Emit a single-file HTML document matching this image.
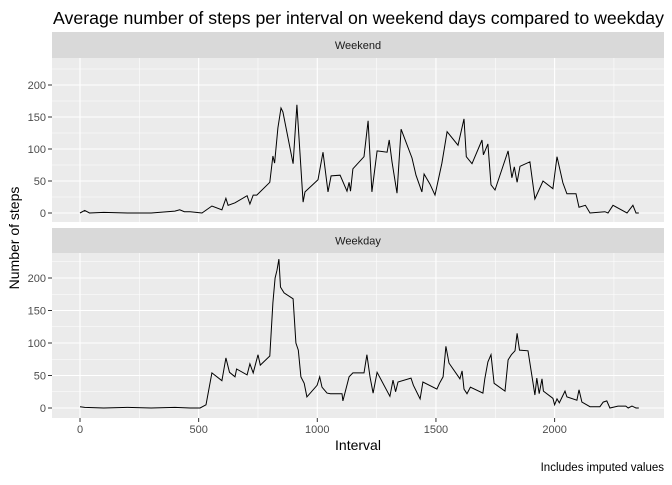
<!DOCTYPE html>
<html><head><meta charset="utf-8"><style>
body{margin:0;background:#fff;font-family:"Liberation Sans",sans-serif}
</style></head><body>
<svg id="c" width="672" height="480" xmlns="http://www.w3.org/2000/svg" font-family="Liberation Sans, sans-serif"></svg>
<script>
const weekendIntervals=[0,20,40,100,200,300,400,420,440,464,514,556,598,615,624,653,704,716,730,745,800,813,820,834,847,855,898,914,940,948,1003,1024,1045,1058,1096,1125,1134,1140,1150,1197,1214,1230,1252,1294,1303,1315,1336,1353,1399,1416,1441,1450,1475,1496,1525,1547,1593,1618,1628,1652,1694,1700,1719,1732,1749,1804,1820,1830,1842,1854,1896,1917,1951,1993,2010,2035,2052,2090,2103,2130,2149,2212,2225,2246,2305,2330,2343,2355];
const weekendSteps=[0,4,0,1,0,0,3,5,2,2,0,11,5,23,12,16,27,14,28,28,48,89,78,133,164,158,77,169,17,33,52,95,33,58,59,34,48,34,69,88,144,33,97,95,114,80,31,131,86,59,33,61,45,28,78,127,106,147,88,77,114,91,108,44,36,97,55,72,48,73,80,22,50,38,88,47,30,30,9,12,0,2,0,12,0,12,0,0];
const weekdayIntervals=[0,20,100,200,300,400,464,506,531,556,598,615,630,653,660,704,716,730,750,760,800,813,822,830,838,845,860,898,910,920,931,945,956,999,1010,1020,1041,1055,1104,1108,1134,1150,1197,1209,1222,1235,1252,1306,1319,1330,1340,1395,1405,1433,1445,1504,1515,1530,1542,1555,1601,1610,1618,1631,1645,1698,1706,1719,1732,1745,1791,1804,1818,1833,1842,1852,1888,1917,1925,1935,1947,1953,1993,2000,2010,2020,2044,2052,2094,2103,2115,2149,2191,2205,2220,2233,2267,2300,2310,2326,2343,2355];
const weekdayValues=[2,1,0,1,0,1,0,0,5,54,42,77,55,48,60,51,68,54,82,66,80,162,200,212,229,186,177,168,100,89,48,38,17,35,48,32,23,22,22,11,48,54,54,82,48,23,55,18,43,25,40,46,35,14,40,29,38,48,95,69,45,57,29,22,32,23,45,71,82,38,26,74,82,88,115,89,88,20,46,22,45,26,15,5,14,8,26,17,12,28,9,2,2,9,11,0,3,3,0,3,0,0];
const xTicks=[0,500,1000,1500,2000];
const yTicks=[0,50,100,150,200];
const NS="http://www.w3.org/2000/svg";
const svg=document.getElementById('c');
function mk(t,a,p){const e=document.createElementNS(NS,t);for(const k in a)e.setAttribute(k,a[k]);(p||svg).appendChild(e);return e;}
const PX0=52,PX1=664;
const xs=v=>80+v*0.2373;
const panels=[
 {name:'Weekend',key:'weekend',sy0:32,top:58,bot:222,y0:213,k:0.64,xi:weekendIntervals,yv:weekendSteps},
 {name:'Weekday',key:'weekday',sy0:228,top:253,bot:418,y0:408,k:0.65,xi:weekdayIntervals,yv:weekdayValues}
];
panels.forEach((p,pi)=>{
 const ys=v=>p.y0-v*p.k;
 const g=mk('g',{});
 
 
 const st=mk('rect',{x:PX0,y:p.sy0,width:PX1-PX0,height:p.top-p.sy0,fill:'#D9D9D9'},g);
 
 
 const stt=mk('text',{x:(PX0+PX1)/2,y:(p.sy0+p.top)/2+4,'text-anchor':'middle','font-size':'11',fill:'#1A1A1A'},g);
 stt.textContent=p.name;
 
 
 mk('rect',{x:PX0,y:p.top,width:PX1-PX0,height:p.bot-p.top,fill:'#EBEBEB'},g);
 for(let v=-250;v<=2750;v+=250){const x=xs(v);if(x<PX0||x>PX1)continue;mk('line',{x1:x,x2:x,y1:p.top,y2:p.bot,stroke:'#fff','stroke-width':v%500===0?1.1:0.55},g);}
 for(let v=-25;v<=250;v+=25){const y=ys(v);if(y<p.top||y>p.bot)continue;mk('line',{x1:PX0,x2:PX1,y1:y,y2:y,stroke:'#fff','stroke-width':v%50===0?1.1:0.55},g);}
 yTicks.forEach(v=>{const y=ys(v);
  const t=mk('text',{x:46,y:y+4,'text-anchor':'end','font-size':'11',fill:'#4D4D4D'},g);t.textContent=v;
  
  
  mk('line',{x1:48,x2:PX0,y1:y,y2:y,stroke:'#333','stroke-width':1},g);});
 const d=p.xi.map((v,i)=>(i?'L':'M')+xs(v).toFixed(1)+','+ys(p.yv[i]).toFixed(1)).join('');
 const ln=mk('path',{d:d,fill:'none',stroke:'#000','stroke-width':1},g);
 
 
});
xTicks.forEach(v=>{const x=xs(v);
 mk('line',{x1:x,x2:x,y1:418,y2:422,stroke:'#333'});
 const t=mk('text',{x:x,y:433,'text-anchor':'middle','font-size':'11',fill:'#4D4D4D'});t.textContent=v;
 
 });
const ti=mk('text',{x:53,y:24,'font-size':'17.5',fill:'#000',textLength:'611',lengthAdjust:'spacingAndGlyphs'});ti.textContent='Average number of steps per interval on weekend days compared to weekday';


const xl=mk('text',{x:358,y:450,'text-anchor':'middle','font-size':'14',fill:'#000'});xl.textContent='Interval';


const yl=mk('text',{x:0,y:0,'text-anchor':'middle','font-size':'14',fill:'#000',transform:'translate(19,238) rotate(-90)'});yl.textContent='Number of steps';


const cp=mk('text',{x:664,y:471,'text-anchor':'end','font-size':'11.5',fill:'#000'});cp.textContent='Includes imputed values';


</script>
</body></html>
